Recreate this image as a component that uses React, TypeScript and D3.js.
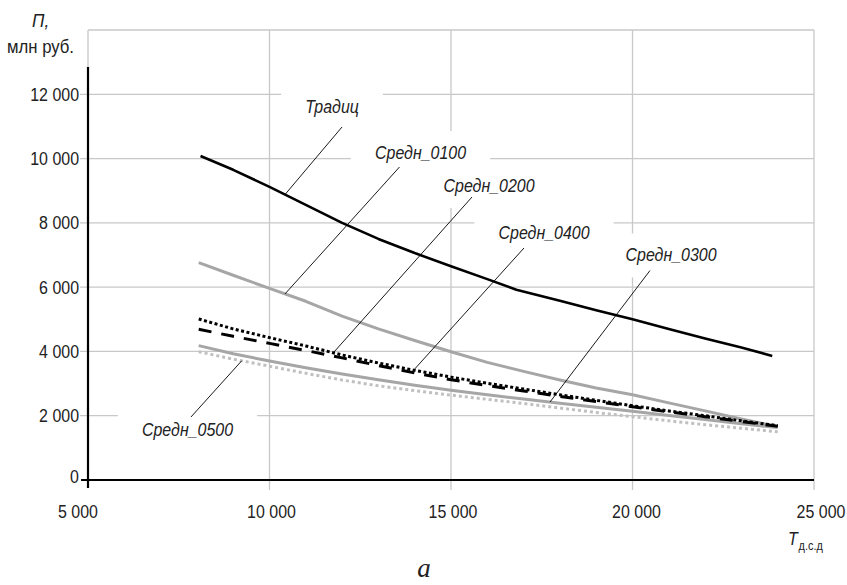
import React, { useRef, useEffect } from "react";
import { select, scaleLinear, line, format } from "d3";

const WIDTH = 847;
const HEIGHT = 585;
const FONT = '"Liberation Sans", Arial, sans-serif';
const NARROW = 0.84; // squeeze to mimic the narrow sans of the original

const xTicks = [5000, 10000, 15000, 20000, 25000];
const yTicks = [0, 2000, 4000, 6000, 8000, 10000, 12000];
const xTickShift = [-10, 2, 2, 4, 7];

// traditional scheme has its own x points (kink near 16 800)
const tradX = [8100, 9000, 10000, 11000, 12000, 13000, 14000, 15000, 16000, 16800, 18000, 19000, 20000, 21000, 22000, 23000, 23850];
const tradValues = [10080, 9650, 9120, 8560, 8000, 7500, 7060, 6650, 6250, 5920, 5580, 5280, 5000, 4700, 4400, 4120, 3860];

const avgX = [8050, 9000, 10000, 11000, 12000, 13000, 14000, 15000, 16000, 17000, 18000, 19000, 20000, 21000, 22000, 23000, 24000];
const sred0100 = [6760, 6370, 5960, 5560, 5100, 4700, 4340, 3990, 3660, 3380, 3110, 2860, 2650, 2400, 2150, 1900, 1660];
const sred0200 = [5010, 4700, 4430, 4170, 3890, 3640, 3410, 3200, 3010, 2830, 2650, 2480, 2310, 2150, 2000, 1840, 1690];
const sred0400 = [4690, 4470, 4250, 4030, 3800, 3560, 3330, 3120, 2940, 2770, 2600, 2440, 2280, 2120, 1970, 1820, 1670];
const sred0300 = [4180, 3930, 3700, 3490, 3300, 3120, 2950, 2790, 2650, 2520, 2390, 2260, 2140, 2010, 1880, 1750, 1630];
const sred0500 = [3990, 3760, 3540, 3320, 3110, 2930, 2780, 2640, 2510, 2380, 2240, 2100, 1970, 1840, 1720, 1610, 1500];

const series = [
  { name: "Средн_0500", xs: avgX, values: sred0500, color: "#c0c0c0", width: 3, dash: "3 3" },
  { name: "Средн_0300", xs: avgX, values: sred0300, color: "#a6a6a6", width: 3, dash: null },
  { name: "Средн_0100", xs: avgX, values: sred0100, color: "#a6a6a6", width: 3, dash: null },
  { name: "Средн_0400", xs: avgX, values: sred0400, color: "#000", width: 3, dash: "13 10" },
  { name: "Средн_0200", xs: avgX, values: sred0200, color: "#000", width: 3, dash: "3 2.5" },
  { name: "Традиц", xs: tradX, values: tradValues, color: "#000", width: 2.6, dash: null },
];

// annotation: text anchor (data units), leader start offset (px), leader target x (data units)
const labels = [
  { name: "Традиц", x: 11722, y: 11418, dx: 10, dy: 14, target: 10427 },
  { name: "Средн_0100", x: 14160, y: 9987, dx: -21, dy: 8, target: 10427 },
  { name: "Средн_0200", x: 16047, y: 8960, dx: -17, dy: 5, target: 11758 },
  { name: "Средн_0400", x: 17562, y: 7498, dx: -20, dy: 9, target: 13917 },
  { name: "Средн_0300", x: 21061, y: 6798, dx: -21, dy: 9, target: 17727 },
  { name: "Средн_0500", x: 7741, y: 1369, dx: 3.5, dy: -19, target: 9234 },
];

const interp = (xs: number[], vs: number[], t: number) => {
  for (let i = 0; i < xs.length - 1; i++) {
    if (t >= xs[i] && t <= xs[i + 1]) {
      const k = (t - xs[i]) / (xs[i + 1] - xs[i]);
      return vs[i] + k * (vs[i + 1] - vs[i]);
    }
  }
  return vs[vs.length - 1];
};

const fmt = (v: number) => format(",")(v).replace(/,/g, " ");

function addText(parent: any, px: number, py: number, str: string, anchor = "middle", italic = false, size = 19, sx = NARROW) {
  return parent.append("text")
    .attr("transform", `translate(${px},${py}) scale(${sx},1)`)
    .attr("text-anchor", anchor)
    .attr("font-family", FONT).attr("font-size", size)
    .attr("font-style", italic ? "italic" : "normal")
    .attr("fill", "#222")
    .text(str);
}

function App() {
  const svgRef = useRef<SVGSVGElement>(null);

  useEffect(() => {
    const svg = select(svgRef.current);
    svg.selectAll("*").remove();

    const x = scaleLinear().domain([5000, 25000]).range([88, 814]);
    const y = scaleLinear().domain([0, 14000]).range([480, 30]);
    const gridColor = "#c8c8c8";

    const grid = svg.append("g");
    // frame top
    grid.append("line").attr("x1", x(5000)).attr("x2", x(25000)).attr("y1", y(14000)).attr("y2", y(14000))
      .attr("stroke", gridColor).attr("stroke-width", 1.3);
    grid.selectAll(".vgrid").data(xTicks.slice(1)).join("line").attr("class", "vgrid")
      .attr("x1", d => x(d)).attr("x2", d => x(d)).attr("y1", y(14000)).attr("y2", y(0) + 10)
      .attr("stroke", gridColor).attr("stroke-width", 1.3);
    grid.selectAll(".hgrid").data(yTicks.slice(1)).join("line").attr("class", "hgrid")
      .attr("x1", x(5000) - 8).attr("x2", x(25000)).attr("y1", d => y(d)).attr("y2", d => y(d))
      .attr("stroke", gridColor).attr("stroke-width", 1.3);
    grid.append("line").attr("x1", x(5000)).attr("x2", x(5000)).attr("y1", y(14000)).attr("y2", y(12800))
      .attr("stroke", gridColor).attr("stroke-width", 1.3);

    // axes
    svg.append("line").attr("x1", x(5000) - 7).attr("x2", x(25000)).attr("y1", y(0)).attr("y2", y(0))
      .attr("stroke", "#000").attr("stroke-width", 2.2);
    svg.append("line").attr("x1", x(5000)).attr("x2", x(5000)).attr("y1", y(12850)).attr("y2", y(0) + 8)
      .attr("stroke", "#000").attr("stroke-width", 2.2);

    yTicks.forEach(v => addText(svg, 79, y(v) + 6.5 - (v === 0 ? 4 : 0), fmt(v), "end"));
    xTicks.forEach((v, i) => addText(svg, x(v) + xTickShift[i], 518, fmt(v)));

    const boxes = svg.append("g");
    const lines = svg.append("g");
    const leaders = svg.append("g");
    const texts = svg.append("g");

    labels.forEach(l => {
      const t = addText(texts, x(l.x), y(l.y), l.name, "middle", true);
      const bb = (t.node() as SVGTextElement).getBBox();
      const w = bb.width * NARROW;
      const mid = y(l.y) - 6;
      boxes.append("rect").attr("x", x(l.x) - w / 2 - 24).attr("width", w + 48)
        .attr("y", mid - 22).attr("height", 44).attr("fill", "#fff");
      const s = series.find(d => d.name === l.name)!;
      const tv = interp(s.xs, s.values, l.target);
      leaders.append("line").attr("x1", x(l.x) + l.dx).attr("y1", y(l.y) + l.dy)
        .attr("x2", x(l.target)).attr("y2", y(tv)).attr("stroke", "#000").attr("stroke-width", 0.9);
    });

    series.forEach(s => {
      const gen = line<number>().x((_, i) => x(s.xs[i])).y(d => y(d));
      lines.append("path").attr("d", gen(s.values)).attr("fill", "none")
        .attr("stroke", s.color).attr("stroke-width", s.width)
        .attr("stroke-dasharray", s.dash ?? null).attr("stroke-linejoin", "round");
    });

    // axis titles
    addText(svg, 32, 27, "П,", "start", true, 19, 0.9);
    addText(svg, 40.5, 53, "млн руб.", "middle", false, 19, 0.88);
    const tl = svg.append("text").attr("transform", `translate(788,545) scale(${NARROW},1)`)
      .attr("font-family", FONT).attr("fill", "#222");
    tl.append("tspan").attr("font-size", 19).attr("font-style", "italic").text("T");
    tl.append("tspan").attr("font-size", 13).attr("dy", 5).attr("dx", 1).text("д.с.д");
    svg.append("text").attr("x", 424).attr("y", 577).attr("text-anchor", "middle")
      .attr("font-family", '"Liberation Serif", "Times New Roman", serif').attr("font-style", "italic")
      .attr("font-size", 27).attr("fill", "#222").text("а");
  }, []);

  return (
    <svg ref={svgRef} width={WIDTH} height={HEIGHT}
      style={{ position: "absolute", left: 0, top: 0, display: "block", background: "#fff" }} />
  );
}

export default App;
